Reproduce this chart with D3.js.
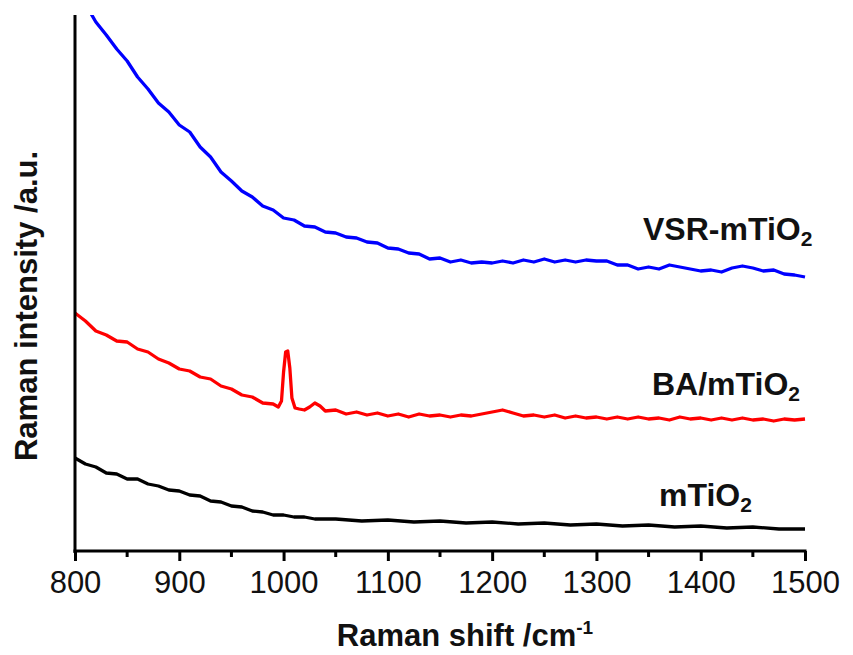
<!DOCTYPE html>
<html>
<head>
<meta charset="utf-8">
<script src="https://cdn.jsdelivr.net/npm/d3@7"></script>
<style>
  body { margin: 0; background: #fff; }
  text { font-family: Arial, "Liberation Sans", sans-serif; }
</style>
</head>
<body>
<script>
const WIDTH = 853;
const HEIGHT = 655;

// Raman shift ticks (cm-1)
const xTicks = [800, 900, 1000, 1100, 1200, 1300, 1400, 1500];
const xMinorTicks = [850, 950, 1050, 1150, 1250, 1350, 1450];

// VSR-mTiO2 (blue)
const vsrShift = [815, 820, 830, 840, 850, 860, 870, 880, 890, 900, 910, 920, 930, 940, 950, 960, 970, 980, 990,
  1000, 1010, 1020, 1030, 1040, 1050, 1060, 1070, 1080, 1090, 1100, 1110, 1120, 1130, 1140, 1150, 1160, 1170, 1180, 1190,
  1200, 1210, 1220, 1230, 1240, 1250, 1260, 1270, 1280, 1290, 1300, 1310, 1320, 1330, 1340, 1350, 1360, 1370, 1380, 1390,
  1400, 1410, 1420, 1430, 1440, 1450, 1460, 1470, 1480, 1490, 1500];
const vsrIntensity = [538, 529, 516, 502, 490, 474, 462, 448, 439, 426, 419, 404, 394, 379, 370, 360, 354, 345, 341,
  333, 331, 325, 324, 319, 318, 314, 313, 309, 308, 303, 302, 298, 297, 292, 293, 289, 291, 288, 289,
  288, 290, 288, 291, 289, 292, 289, 291, 289, 291, 290, 290, 286, 286, 282, 284, 282, 286, 284, 282,
  280, 281, 279, 283, 285, 283, 280, 281, 277, 276, 274];

// BA/mTiO2 (red)
const baShift = [800, 810, 820, 830, 840, 850, 860, 870, 880, 890, 900, 910, 920, 930, 940, 950, 960, 970, 980, 990,
  995, 998, 1000, 1002, 1004, 1006, 1008, 1011, 1015, 1020, 1025, 1030, 1035, 1040, 1050, 1060, 1070, 1080, 1090,
  1100, 1110, 1120, 1130, 1140, 1150, 1160, 1170, 1180, 1190, 1200, 1210, 1220, 1230, 1240, 1250, 1260, 1270, 1280, 1290,
  1300, 1310, 1320, 1330, 1340, 1350, 1360, 1370, 1380, 1390, 1400, 1410, 1420, 1430, 1440, 1450, 1460, 1470, 1480, 1490, 1500];
const baIntensity = [238, 230, 220, 216, 210, 209, 202, 199, 192, 188, 182, 180, 174, 172, 165, 162, 156, 154, 148, 147,
  144, 150, 179, 199, 200, 183, 153, 143, 142, 141, 144, 148, 145, 140, 141, 137, 139, 136, 138,
  135, 137, 134, 137, 135, 136, 134, 136, 135, 137, 139, 141, 138, 135, 136, 134, 136, 133, 135, 133,
  134, 132, 134, 132, 134, 132, 133, 131, 134, 132, 133, 131, 133, 131, 133, 131, 132, 130, 132, 131, 132];

// mTiO2 (black)
const mShift = [800, 810, 820, 830, 840, 850, 860, 870, 880, 890, 900, 910, 920, 930, 940, 950, 960, 970, 980, 990,
  1000, 1010, 1020, 1030, 1050, 1075, 1100, 1125, 1150, 1175, 1200, 1225, 1250, 1275, 1300, 1325, 1350, 1375,
  1400, 1425, 1450, 1475, 1500];
const mIntensity = [93, 87, 84, 78, 77, 72, 72, 67, 65, 61, 60, 56, 55, 50, 49, 45, 44, 40, 39, 36,
  36, 34, 34, 32, 32, 30, 31, 29, 30, 28, 29, 27, 28, 26, 27, 25, 26, 24,
  25, 23, 24, 22, 22];

const series = [
  {name: "VSR-mTiO", shift: vsrShift, values: vsrIntensity, color: "#0000ff", lx: 643, ly: 240},
  {name: "BA/mTiO", shift: baShift, values: baIntensity, color: "#ff0000", lx: 652, ly: 395},
  {name: "mTiO", shift: mShift, values: mIntensity, color: "#000000", lx: 659, ly: 506}
];

const svg = d3.select("body").append("svg").attr("width", WIDTH).attr("height", HEIGHT);

const x = d3.scaleLinear().domain([800, 1500]).range([75, 805]);
const y = d3.scaleLinear().domain([0, 536]).range([551, 15]);

svg.append("clipPath").attr("id", "plot")
  .append("rect").attr("x", 75).attr("y", 15).attr("width", 740).attr("height", 536);

const line = d3.line()
  .x(function(d) { return x(d[0]); })
  .y(function(d) { return y(d[1]); });

series.forEach(function(s) {
  const pts = s.shift.map(function(v, i) { return [v, s.values[i]]; });
  svg.append("path")
    .attr("clip-path", "url(#plot)")
    .attr("d", line(pts))
    .attr("fill", "none")
    .attr("stroke", s.color)
    .attr("stroke-width", 3.3)
    .attr("stroke-linejoin", "round");

  const t = svg.append("text")
    .attr("x", s.lx).attr("y", s.ly)
    .attr("font-size", 32).attr("font-weight", "bold")
    .attr("fill", "#111");
  t.append("tspan").text(s.name);
  t.append("tspan").attr("font-size", 21).attr("dy", 6).text("2");
});

// x axis
const xAxis = d3.axisBottom(x).tickValues(xTicks).tickFormat(d3.format("d"))
  .tickSize(10).tickSizeOuter(0).tickPadding(10);
const gx = svg.append("g").attr("transform", "translate(0,551)").call(xAxis);
gx.select(".domain").attr("stroke-width", 3).attr("d", "M73.5,0H806.5");
gx.selectAll(".tick line").attr("stroke-width", 3);
gx.selectAll(".tick text")
  .attr("font-size", 31).attr("font-family", "Arial, 'Liberation Sans', sans-serif")
  .attr("fill", "#111");

gx.selectAll(".minor").data(xMinorTicks).enter().append("line")
  .attr("class", "minor")
  .attr("x1", function(d) { return x(d); }).attr("x2", function(d) { return x(d); })
  .attr("y1", 0).attr("y2", 6)
  .attr("stroke", "#000").attr("stroke-width", 3);

// y axis (no ticks)
svg.append("line")
  .attr("x1", 75).attr("x2", 75).attr("y1", 15).attr("y2", 553)
  .attr("stroke", "#000").attr("stroke-width", 3);

// axis titles
const xt = svg.append("text")
  .attr("x", 465).attr("y", 646)
  .attr("text-anchor", "middle")
  .attr("font-size", 31).attr("font-weight", "bold").attr("fill", "#111");
xt.append("tspan").text("Raman shift /cm");
xt.append("tspan").attr("font-size", 19).attr("dy", -12).text("-1");

svg.append("text")
  .attr("transform", "translate(37,306) rotate(-90)")
  .attr("text-anchor", "middle")
  .attr("font-size", 31).attr("font-weight", "bold").attr("fill", "#111")
  .text("Raman intensity /a.u.");
</script>
</body>
</html>
